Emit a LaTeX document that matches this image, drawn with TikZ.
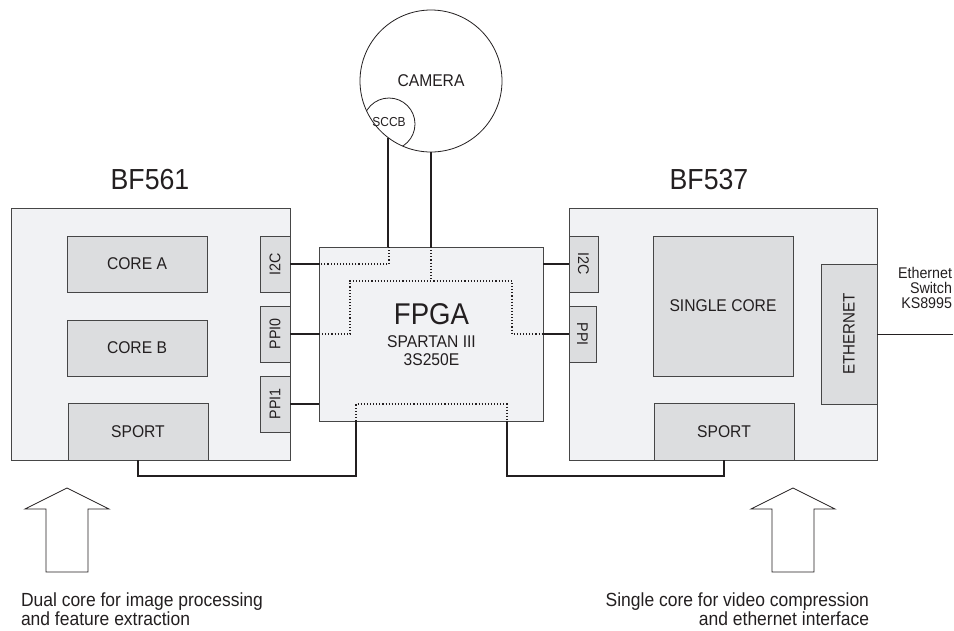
\documentclass[tikz,border=0pt]{standalone}
\usepackage{fontspec}
\usepackage{graphicx}
\setmainfont{Liberation Sans}[FakeStretch=0.92]
\definecolor{boardfill}{RGB}{241,242,244}
\definecolor{boxfill}{RGB}{220,221,223}
\definecolor{edgecol}{RGB}{70,70,70}
\definecolor{ink}{RGB}{35,31,32}
\begin{document}
\begin{tikzpicture}[x=1pt,y=-1pt,
  every node/.style={inner sep=0pt, outer sep=0pt, text=ink},
  board/.style={draw=edgecol, fill=boardfill, line width=0.8pt},
  unit/.style={draw=edgecol, fill=boxfill, line width=0.8pt},
  portbox/.style={unit, font=\fontsize{15.5}{16}\selectfont},
  bigtxt/.style={font=\fontsize{29}{30}\selectfont},
  midtxt/.style={font=\fontsize{17}{18}\selectfont},
  captxt/.style={font=\fontsize{19}{19.5}\selectfont},
  conn/.style={draw=ink, line width=1.9pt},
  dotconn/.style={draw=ink, line width=1.1pt, dash pattern=on 1.1pt off 2pt},
  thinline/.style={draw=ink, line width=0.8pt},
  hollowarrow/.style={draw=ink, fill=white, line width=0.8pt}]
\useasboundingbox (0,0) rectangle (954,630);

% ---------- BF561 ----------
\node[bigtxt, anchor=base] (t561) at (150,189) {BF561};
\node[board, minimum width=279pt, minimum height=252pt] (bf561) at (150.5,334) {};
\node[unit, midtxt, minimum width=140pt, minimum height=56pt] (corea) at (137,264) {CORE A};
\node[unit, midtxt, minimum width=140pt, minimum height=56pt] (coreb) at (137,348) {CORE B};
\node[unit, midtxt, minimum width=140pt, minimum height=57pt] (sportl) at (138,431.5) {SPORT};
\node[portbox, minimum width=30pt, minimum height=56pt] (i2cl) at (275,264) {\rotatebox{90}{I2C}};
\node[portbox, minimum width=30pt, minimum height=56pt] (ppi0) at (275,334) {\rotatebox{90}{PPI0}};
\node[portbox, minimum width=30pt, minimum height=56pt] (ppi1) at (275,404) {\rotatebox{90}{PPI1}};

% ---------- BF537 ----------
\node[bigtxt, anchor=base] (t537) at (709,189) {BF537};
\node[board, minimum width=308pt, minimum height=252pt] (bf537) at (723,334) {};
\node[portbox, minimum width=29pt, minimum height=56pt] (i2cr) at (583.5,264) {\rotatebox{-90}{I2C}};
\node[portbox, minimum width=27pt, minimum height=56pt] (ppir) at (582.5,334) {\rotatebox{-90}{PPI}};
\node[unit, midtxt, minimum width=140pt, minimum height=140pt] (single) at (723,306) {SINGLE CORE};
\node[unit, midtxt, minimum width=140pt, minimum height=57pt] (sportr) at (724,431.5) {SPORT};
\node[unit, font=\fontsize{16.5}{17}\selectfont, minimum width=56pt, minimum height=140pt] (ether) at (849,334) {\rotatebox{90}{ETHERNET}};

% ---------- FPGA ----------
\node[board, minimum width=224pt, minimum height=174pt] (fpga) at (431,334) {};
\node[font=\fontsize{30}{30}\selectfont, anchor=base] (tfpga) at (431.5,324) {FPGA};
\node[midtxt, anchor=base] (tspartan) at (431.5,347) {SPARTAN III};
\node[midtxt, anchor=base] (tpart) at (431.5,365) {3S250E};

% ---------- Camera ----------
\node[circle, draw=ink, fill=white, line width=0.8pt, minimum size=142pt, midtxt] (cam) at (431,81) {CAMERA};
\begin{scope}
  \clip (431,81) circle (71pt);
  \node[circle, draw=ink, line width=0.8pt, minimum size=52pt] (sccb) at (389,124) {};
\end{scope}
\node[font=\fontsize{13}{14}\selectfont] (tsccb) at (389,122.5) {SCCB};

% ---------- coordinates ----------
\coordinate (ca) at (389,247);
\coordinate (cb) at (431,247);
\coordinate (ya) at (389,264);
\coordinate (yb) at (431,281);
\coordinate (d1) at (350,281);
\coordinate (d2) at (512,281);
\coordinate (d3) at (350,334);
\coordinate (d4) at (512,334);
\coordinate (e1) at (356,404);
\coordinate (e2) at (507,404);
\coordinate (sl) at (356,421);
\coordinate (sr) at (507,421);
\coordinate (busy) at (0,476);
\coordinate (netend) at (953,334);

% ---------- connectors ----------
\draw[conn] (cam.233.6) -- (cam.233.6 |- ca);
\draw[conn] (cam.south) -- (cb);
\draw[dotconn] (ca) -- (ya) -- (ya -| fpga.west);
\draw[dotconn] (cb) -- (yb);
\draw[dotconn] (fpga.west |- d3) -- (d3) -- (d1) -- (d2) -- (d4) -- (fpga.east |- d4);
\draw[dotconn] (sl) -- (e1) -- (e2) -- (sr);

\draw[conn] (i2cl.east) -- (i2cl.east -| fpga.west);
\draw[conn] (ppi0.east) -- (ppi0.east -| fpga.west);
\draw[conn] (ppi1.east) -- (ppi1.east -| fpga.west);
\draw[conn] (fpga.east |- i2cr) -- (i2cr.west);
\draw[conn] (fpga.east |- ppir) -- (ppir.west);
\draw[conn] (sportl.south) -- (sportl.south |- busy) -- (sl |- busy) -- (sl);
\draw[conn] (sportr.south) -- (sportr.south |- busy) -- (sr |- busy) -- (sr);
\draw[thinline] (ether.east) -- (netend);

\node[font=\fontsize{15.5}{15}\selectfont, align=right, anchor=north east] (tswitch) at (952,267.5) {Ethernet\\Switch\\KS8995};

% ---------- arrows and captions ----------
\draw[hollowarrow] (67,488) -- (109,509) -- (88,509) -- (88,572) -- (46,572) -- (46,509) -- (25,509) -- cycle;
\draw[hollowarrow] (793,488) -- (835,509) -- (814,509) -- (814,572) -- (772,572) -- (772,509) -- (751,509) -- cycle;
\node[captxt, align=left, anchor=north west] (capl) at (21,592.5) {Dual core for image processing\\and feature extraction};
\node[captxt, align=right, anchor=north east] (capr) at (869,592.5) {Single core for video compression\\and ethernet interface};
\end{tikzpicture}
\end{document}
